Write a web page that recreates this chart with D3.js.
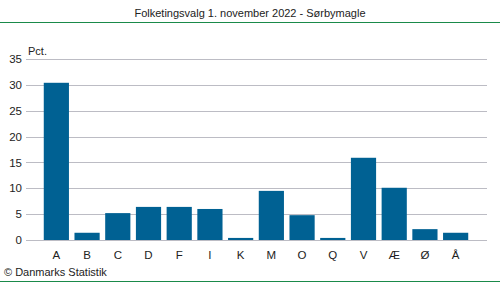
<!DOCTYPE html>
<html>
<head>
<meta charset="utf-8">
<script src="https://cdn.jsdelivr.net/npm/d3@7"></script>
<style>
  body { margin: 0; background: #fff; }
  text { font-family: "Liberation Sans", Arial, sans-serif; fill: #222; }
</style>
</head>
<body>
<div id="chart"></div>
<script>
// data
var parties = ["A", "B", "C", "D", "F", "I", "K", "M", "O", "Q", "V", "Æ", "Ø", "Å"];
var pct = [30.4, 1.4, 5.2, 6.4, 6.4, 6.0, 0.4, 9.5, 4.8, 0.4, 15.9, 10.1, 2.1, 1.4];
var yTicks = [0, 5, 10, 15, 20, 25, 30, 35];

var W = 500, H = 282;

var svg = d3.select("#chart").append("svg")
  .attr("width", W)
  .attr("height", H);

// title + green rules
svg.append("text")
  .attr("x", 250)
  .attr("y", 17)
  .attr("text-anchor", "middle")
  .style("font-size", "11px")
  .text("Folketingsvalg 1. november 2022 - Sørbymagle");

svg.append("line")
  .attr("x1", 0).attr("x2", W)
  .attr("y1", 22.5).attr("y2", 22.5)
  .style("stroke", "#1a8a4a");

svg.append("line")
  .attr("x1", 0).attr("x2", W)
  .attr("y1", 281.5).attr("y2", 281.5)
  .style("stroke", "#1a8a4a");

// scales
var xScale = d3.scaleBand()
  .domain(parties)
  .range([41, 471])
  .paddingInner(0.18)
  .paddingOuter(0.09);

var yScale = d3.scaleLinear()
  .domain([0, 35])
  .range([240, 59]);

// gridlines
svg.append("g")
  .selectAll("line")
  .data(yTicks)
  .enter().append("line")
  .attr("x1", 26).attr("x2", 487)
  .attr("y1", function(d) { return Math.round(yScale(d)) + 0.5; })
  .attr("y2", function(d) { return Math.round(yScale(d)) + 0.5; })
  .style("stroke", "#bcbcc4");

// y axis labels
var yAxis = svg.append("g")
  .attr("transform", "translate(22,0)")
  .call(d3.axisLeft(yScale).tickValues(yTicks).tickSize(0).tickPadding(0));
yAxis.select(".domain").remove();
yAxis.selectAll("text")
  .style("font-family", "'Liberation Sans', Arial, sans-serif")
  .style("font-size", "11.5px")
  .style("fill", "#222");

svg.append("text")
  .attr("x", 28)
  .attr("y", 55)
  .style("font-size", "11px")
  .text("Pct.");

// bars
svg.selectAll(".bar")
  .data(parties)
  .enter().append("rect")
  .attr("class", "bar")
  .attr("x", function(d) { return xScale(d); })
  .attr("width", xScale.bandwidth())
  .attr("y", function(d, i) { return yScale(pct[i]); })
  .attr("height", function(d, i) { return yScale(0) - yScale(pct[i]); })
  .style("fill", "#006193");

// x axis labels
var xAxis = svg.append("g")
  .attr("transform", "translate(0,251)")
  .call(d3.axisBottom(xScale).tickSize(0).tickPadding(0));
xAxis.select(".domain").remove();
xAxis.selectAll("text")
  .style("font-family", "'Liberation Sans', Arial, sans-serif")
  .style("font-size", "11.5px")
  .style("fill", "#222");

// source
svg.append("text")
  .attr("x", 4)
  .attr("y", 276)
  .style("font-size", "11px")
  .text("© Danmarks Statistik");
</script>
</body>
</html>
